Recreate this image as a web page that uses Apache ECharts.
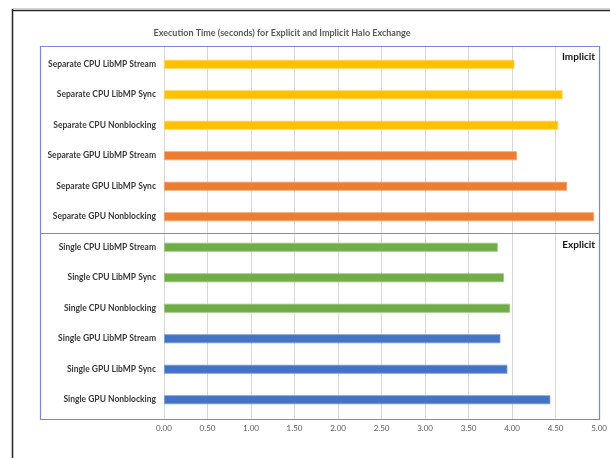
<!DOCTYPE html>
<html>
<head>
<meta charset="utf-8">
<script src="https://cdn.jsdelivr.net/npm/echarts@6/dist/echarts.min.js"></script>
<style>
  html, body { margin: 0; padding: 0; background: #fff; }
  #chart { width: 610px; height: 458px; }
</style>
</head>
<body>
<div id="chart"></div>
<script>
// Halo exchange timings, top to bottom as drawn
const categories = [
  'Separate CPU LibMP Stream',
  'Separate CPU LibMP Sync',
  'Separate CPU Nonblocking',
  'Separate GPU LibMP Stream',
  'Separate GPU LibMP Sync',
  'Separate GPU Nonblocking',
  'Single CPU LibMP Stream',
  'Single CPU LibMP Sync',
  'Single CPU Nonblocking',
  'Single GPU LibMP Stream',
  'Single GPU LibMP Sync',
  'Single GPU Nonblocking'
];
const seconds = [4.00, 4.55, 4.50, 4.03, 4.60, 4.91, 3.81, 3.88, 3.95, 3.84, 3.92, 4.41];
const panelLabels = ['Implicit', 'Explicit'];
const titleText = 'Execution Time (seconds) for Explicit and Implicit Halo Exchange';
const axisMin = 0, axisMax = 5, axisStep = 0.5;

const FONT = 'Lato, "Liberation Sans", sans-serif';
const palette = {
  'Separate CPU': '#FFC000',
  'Separate GPU': '#ED7D31',
  'Single CPU': '#70AD47',
  'Single GPU': '#4472C4'
};
const edge = {
  'Separate CPU': '#FFD454',
  'Separate GPU': '#F3A071',
  'Single CPU': '#97C67B',
  'Single GPU': '#7A9AD6'
};
function groupOf(name) { return name.split(' ').slice(0, 2).join(' '); }

const chart = echarts.init(document.getElementById('chart'), null, { renderer: 'canvas' });

const option = {
  animation: false,
  backgroundColor: '#ffffff',
  grid: [
    // full-height frame that carries the vertical gridlines and tick labels
    { left: 164, right: 8, top: 47, bottom: 39 },
    // bar area
    { left: 164, right: 8, top: 49, bottom: 43 }
  ],
  xAxis: [
    {
      gridIndex: 0, type: 'value', min: axisMin, max: axisMax, interval: axisStep,
      axisLine: { show: false }, axisTick: { show: false },
      splitLine: { show: true, lineStyle: { color: '#D9D9D9', width: 1 } },
      axisLabel: {
        formatter: v => v.toFixed(2), color: '#595959', fontFamily: FONT,
        fontSize: 8, margin: 5
      }
    },
    {
      gridIndex: 1, type: 'value', min: axisMin, max: axisMax, interval: axisStep,
      show: false
    }
  ],
  yAxis: [
    { gridIndex: 0, type: 'value', show: false, min: 0, max: 1 },
    {
      gridIndex: 1, type: 'category', data: categories, inverse: true,
      axisLine: { show: false }, axisTick: { show: false },
      splitLine: { show: false },
      axisLabel: {
        color: '#3A3A3A', fontFamily: FONT, fontWeight: 'bold',
        fontSize: 8.5, margin: 8
      }
    }
  ],
  series: [{
    type: 'bar',
    xAxisIndex: 1, yAxisIndex: 1,
    barWidth: 9,
    data: seconds.map((v, i) => ({
      value: v,
      itemStyle: {
        color: palette[groupOf(categories[i])],
        borderColor: edge[groupOf(categories[i])],
        borderWidth: 0.8
      }
    }))
  }]
};
chart.setOption(option);

// frames, divider and text drawn on top of the finished layout
const gridRect = chart.getModel().getComponent('grid', 0).coordinateSystem.getRect();
const y5 = chart.convertToPixel({ yAxisIndex: 1 }, categories[5]);
const y6 = chart.convertToPixel({ yAxisIndex: 1 }, categories[6]);
const divY = Math.round((y5 + y6) / 2) + 1.5;
const boxLeft = 40.5;
const boxTop = Math.round(gridRect.y) - 0.5;
const boxRight = Math.round(gridRect.x + gridRect.width) + 0.5;
const boxBottom = Math.round(gridRect.y + gridRect.height) + 0.5;
const boxColor = '#7F88C8';

chart.setOption({
  graphic: [
    // outer chart frame
    { type: 'line', shape: { x1: 12.5, y1: 9, x2: 12.5, y2: 458 },
      style: { stroke: '#262626', lineWidth: 1.5 }, silent: true },
    { type: 'line', shape: { x1: 12, y1: 10.5, x2: 610, y2: 10.5 },
      style: { stroke: '#262626', lineWidth: 1.5 }, silent: true },
    { type: 'line', shape: { x1: 12, y1: 8.5, x2: 610, y2: 8.5 },
      style: { stroke: '#D0D0D0', lineWidth: 1 }, silent: true },
    // panel boxes
    { type: 'rect', shape: { x: boxLeft, y: boxTop, width: boxRight - boxLeft, height: boxBottom - boxTop },
      style: { fill: 'none', stroke: boxColor, lineWidth: 1.2 }, silent: true, z: 10 },
    { type: 'line', shape: { x1: boxLeft, y1: divY, x2: boxRight, y2: divY },
      style: { stroke: boxColor, lineWidth: 1.2 }, silent: true, z: 10 },
    // title
    { type: 'text', x: 282, y: 33, silent: true,
      style: { text: titleText, fill: '#595959', font: 'bold 9px ' + FONT,
               align: 'center', verticalAlign: 'middle' } },
    // panel captions
    { type: 'text', x: 595, y: 57, silent: true,
      style: { text: panelLabels[0], fill: '#111111', font: 'bold 10px ' + FONT,
               align: 'right', verticalAlign: 'middle' } },
    { type: 'text', x: 595, y: 245, silent: true,
      style: { text: panelLabels[1], fill: '#111111', font: 'bold 10px ' + FONT,
               align: 'right', verticalAlign: 'middle' } }
  ]
});
</script>
</body>
</html>
